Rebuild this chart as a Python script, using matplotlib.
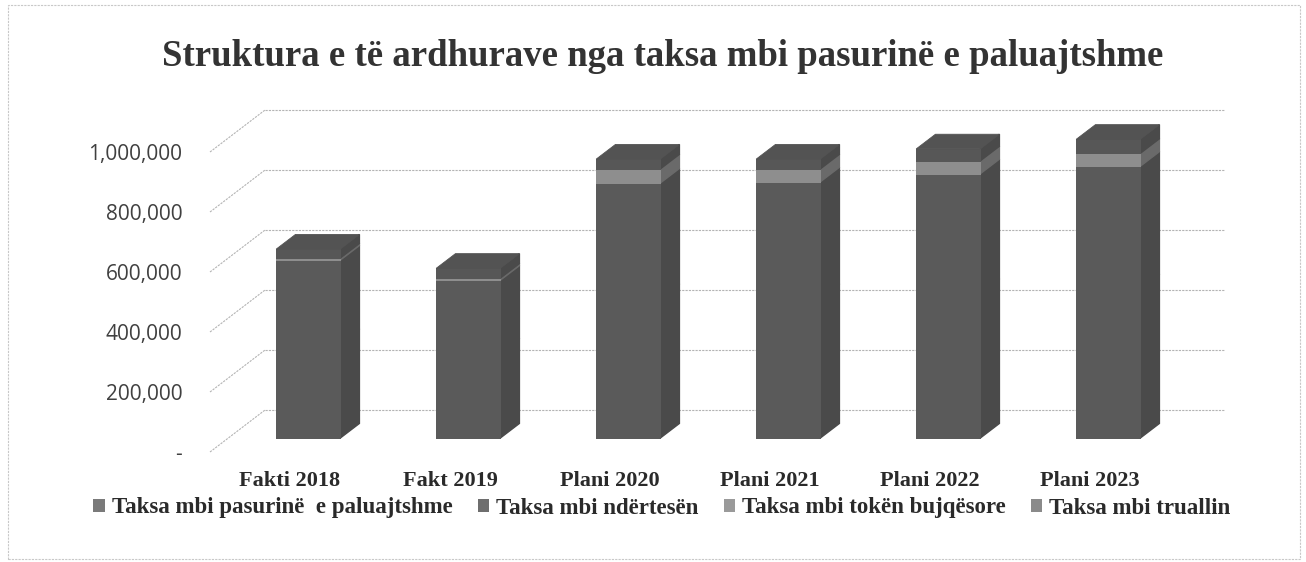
import matplotlib
matplotlib.use("Agg")
import matplotlib.pyplot as plt
from matplotlib.patches import Polygon, Rectangle, Patch

# ---- data ----
categories = ["Fakti 2018", "Fakt 2019", "Plani 2020", "Plani 2021", "Plani 2022", "Plani 2023"]
series_names = ["Taksa mbi pasurinë  e paluajtshme", "Taksa mbi ndërtesën",
                "Taksa mbi tokën bujqësore", "Taksa mbi truallin"]
pasurine = [315000, 283000, 465000, 465000, 482000, 498000]
ndertesen = [278000, 243000, 385000, 389000, 399000, 408000]
toke = [7000, 7000, 47000, 43000, 43000, 43000]
truall = [30000, 33000, 33000, 33000, 40000, 47000]
yticks = [0, 200000, 400000, 600000, 800000, 1000000]
ytick_labels = ["-", "200,000", "400,000", "600,000", "800,000", "1,000,000"]

series = [pasurine, ndertesen, toke, truall]
front_cols = ["#5a5a5a", "#5a5a5a", "#8e8e8e", "#575757"]
side_cols = ["#4a4a4a", "#4a4a4a", "#6a6a6a", "#4a4a4a"]
top_col = "#535353"
legend_cols = ["#7a7a7a", "#6e6e6e", "#9a9a9a", "#8a8a8a"]

W, H = 1306, 562
fig = plt.figure(figsize=(W / 100, H / 100), dpi=100)
fig.patch.set_facecolor("white")
ax = fig.add_axes([210 / W, (H - 452) / H, 960 / W, 300 / H])
ax.set_xlim(-0.5, 5.5)
ax.set_ylim(0, 1000000)
for s in ax.spines.values():
    s.set_visible(False)

DX = 0.344      # full depth in category units
DY = 140000     # full depth in value units
d0 = 0.33       # bar front depth
bd = 0.35       # bar depth
w = 0.4         # bar width

grid_kw = dict(color="#b4b4b4", lw=0.8, ls=(0, (2, 1)), clip_on=False, zorder=0)
for v in yticks:
    ax.plot([-0.5 + DX, 5.5 + DX], [v + DY, v + DY], **grid_kw)
    ax.plot([-0.5, -0.5 + DX], [v, v + DY], **grid_kw)

for i in range(len(categories)):
    x0 = i + d0 * DX
    xl, xr = x0 - w / 2, x0 + w / 2
    base = d0 * DY
    for k, vals in enumerate(series):
        h = vals[i]
        ax.bar(x0, h, width=w, bottom=base, color=front_cols[k], ec=front_cols[k], lw=0.6,
               zorder=3, clip_on=False, antialiased=False)
        side = Polygon([(xr, base), (xr, base + h), (xr + bd * DX, base + h + bd * DY),
                        (xr + bd * DX, base + bd * DY)], closed=True, fc=side_cols[k],
                       ec=side_cols[k], lw=1.0, zorder=2, clip_on=False)
        ax.add_patch(side)
        base += h
    top = Polygon([(xl, base), (xr, base), (xr + bd * DX, base + bd * DY),
                   (xl + bd * DX, base + bd * DY)], closed=True, fc=top_col, ec=top_col,
                  lw=0.6, zorder=3, clip_on=False)
    ax.add_patch(top)

ax.set_yticks(yticks)
ax.set_yticklabels(ytick_labels, fontsize=15, color="#404040", family="Open Sans")
ax.set_xticks(range(len(categories)))
ax.set_xticklabels(categories, fontsize=16, fontweight="bold", color="#2a2a2a",
                   family="Liberation Serif")
ax.tick_params(axis="y", length=0, pad=20)
ax.tick_params(axis="x", length=0, pad=14)

fig.text(663 / W, 1 - 57 / H, "Struktura e të ardhurave nga taksa mbi pasurinë e paluajtshme",
         ha="center", va="center", fontsize=26.5, fontweight="bold", color="#333333",
         family="Liberation Serif")

handles = [Patch(fc=c, ec="none") for c in legend_cols]
fig.legend(handles, series_names, ncol=4, loc="center", bbox_to_anchor=(662 / W, 1 - 508 / H),
           frameon=False, prop=dict(family="Liberation Serif", weight="bold", size=16.5),
           handlelength=0.5, handleheight=0.5, handletextpad=0.3, columnspacing=1.1,
           labelcolor="#2a2a2a")

fig.add_artist(Rectangle((8 / W, 3 / H), 1292 / W, 554 / H, transform=fig.transFigure,
                         fill=False, ec="#c8c8c8", lw=0.8, ls=(0, (2, 1))))

fig.savefig("out.png", dpi=100)
